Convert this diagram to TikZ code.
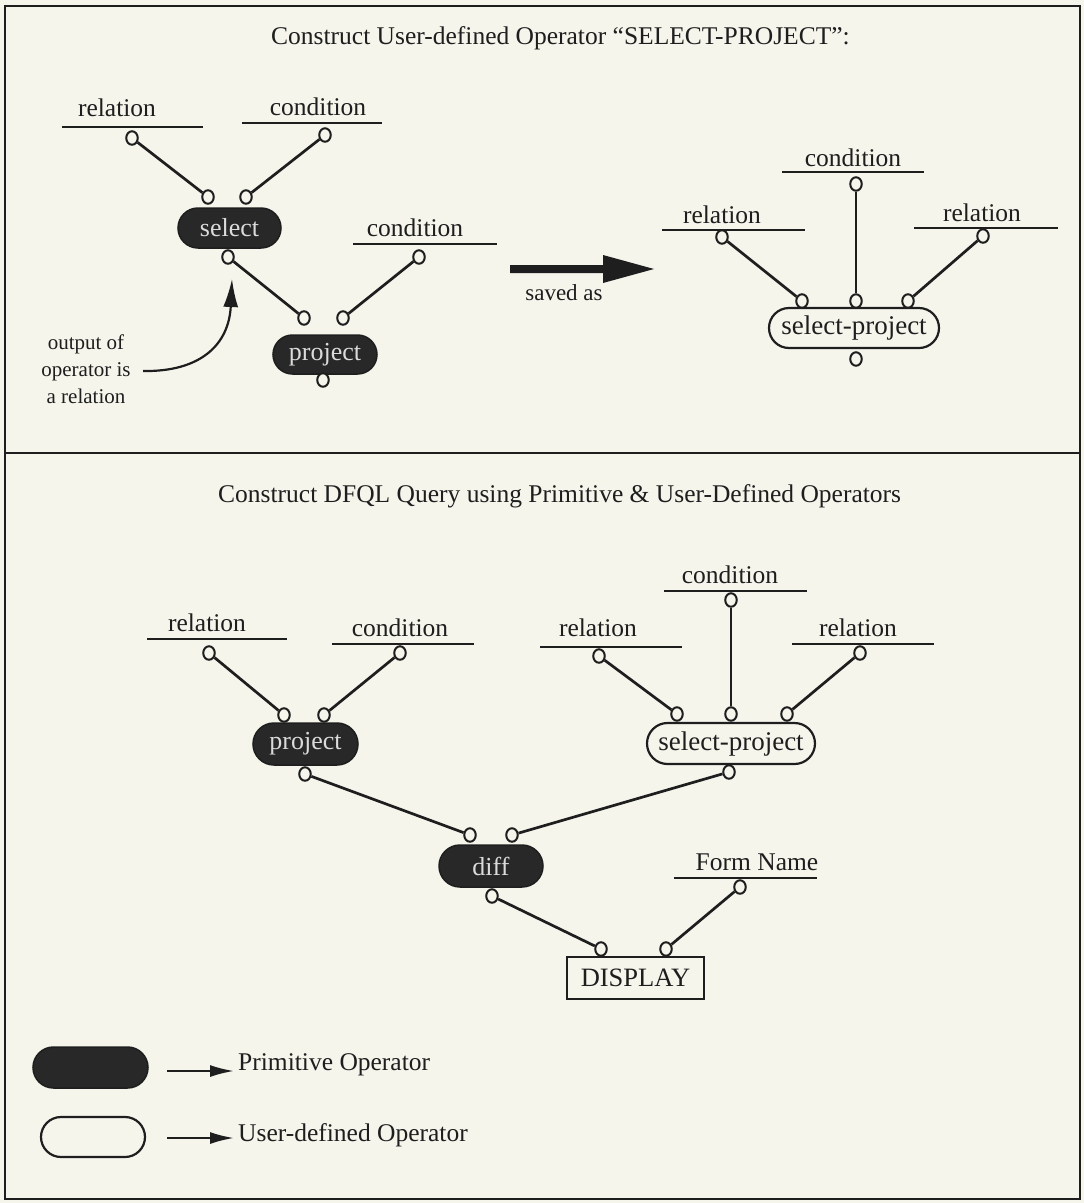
\documentclass[tikz,border=0pt]{standalone}
\usepackage{fontspec}
\setmainfont{Liberation Serif}
\usetikzlibrary{shapes.misc,shapes.geometric,arrows.meta}
\definecolor{bg}{RGB}{245,245,236}
\definecolor{ink}{RGB}{30,30,30}
\definecolor{prim}{RGB}{40,40,40}
\begin{document}
\begin{tikzpicture}[x=1pt,y=-1pt,
  lbl/.style={font=\fontsize{25.5}{30}\selectfont, text=ink, inner sep=0pt},
  ttl/.style={font=\fontsize{25.5}{30}\selectfont, text=ink, inner sep=0pt, anchor=west},
  uline/.style={draw=ink, line width=2.8pt},
  port/.style={ellipse, draw=ink, line width=2pt, fill=bg, minimum width=11.5pt, minimum height=13.5pt, inner sep=0pt},
  conn/.style={draw=ink, line width=2.7pt},
  primop/.style={rounded rectangle, fill=prim, draw=ink, line width=1.5pt, inner sep=0pt, text=white!72!gray, font=\fontsize{26}{30}\selectfont},
  userop/.style={rounded rectangle, fill=bg, draw=ink, line width=2.2pt, inner sep=0pt, text=ink, font=\fontsize{27}{30}\selectfont},
  dispbox/.style={rectangle, fill=bg, draw=ink, line width=2.2pt, inner sep=0pt, text=ink, font=\fontsize{26.5}{30}\selectfont},
  legarrow/.style={draw=ink, line width=2.2pt, -{Latex[length=24pt,width=12pt]}}
]
\useasboundingbox (0,0) rectangle (1084,1203);
\fill[bg] (0,0) rectangle (1084,1203);
\draw[ink, line width=2.2pt] (5,6) rectangle (1080,1199);
\draw[ink, line width=2pt] (5,453) -- (1080,453);

% ---------------- top section ----------------
\node[ttl] (title1) at (271,38) {Construct User-defined Operator “SELECT-PROJECT”:};

% label lines
\node[lbl] (t1) at (117,108) {relation};
\draw[uline] (62,127) -- (203,127);
\node[port] (t1p) at (132,138) {};
\node[lbl] (t2) at (318,107) {condition};
\draw[uline] (242,123) -- (382,123);
\node[port] (t2p) at (325,135) {};
\node[lbl] (t3) at (415,228) {condition};
\draw[uline] (353,244) -- (497,244);
\node[port] (t3p) at (419,257) {};

% select
\node[primop, minimum width=103pt, minimum height=40pt] (sel) at (229.5,228) {select};
\node[port] (selA) at (208,197) {};
\node[port] (selB) at (246,197) {};
\node[port] (selO) at (228,257) {};
% project
\node[primop, minimum width=104pt, minimum height=39pt] (proj) at (325,354.5) {project};
\node[port] (projA) at (304,318) {};
\node[port] (projB) at (343,318) {};
\node[port] (projO) at (323,380) {};

\draw[conn] (t1p) -- (selA);
\draw[conn] (t2p) -- (selB);
\draw[conn] (selO) -- (projA);
\draw[conn] (t3p) -- (projB);

% annotation
\node[font=\fontsize{21}{27}\selectfont, text=ink, align=center, inner sep=0pt] (ann) at (86,369) {output of\\operator is\\a relation};
\coordinate (annstart) at (143,371);
\coordinate (anntip) at (232,279);
\draw[ink, line width=2.2pt, -{Latex[length=28pt,width=15pt]}] (annstart) .. controls (200,372) and (229,345) .. (anntip);

% saved as arrow
\fill[ink] (510,265) -- (603,265) -- (603,255) -- (654,269) -- (603,283) -- (603,273) -- (510,273) -- cycle;
\node[font=\fontsize{23}{27}\selectfont, text=ink, inner sep=0pt] (saved) at (564,293) {saved as};

% right side
\node[lbl] (r1) at (722,215) {relation};
\draw[uline] (662,230) -- (805,230);
\node[port] (r1p) at (722,237) {};
\node[lbl] (r2) at (853,158) {condition};
\draw[uline] (782,172) -- (924,172);
\node[port] (r2p) at (856,184) {};
\node[lbl] (r3) at (982,213) {relation};
\draw[uline] (914,228) -- (1058,228);
\node[port] (r3p) at (983,236) {};

\node[userop, minimum width=170pt, minimum height=40pt] (sp) at (854,328) {select-project};
\node[port] (spA) at (802,301) {};
\node[port] (spB) at (856,301) {};
\node[port] (spC) at (908,301) {};
\node[port] (spO) at (856,359) {};

\draw[conn] (r1p) -- (spA);
\draw[conn] (r2p) -- (spB);
\draw[conn] (r3p) -- (spC);

% ---------------- bottom section ----------------
\node[ttl] (title2) at (218,496) {Construct DFQL Query using Primitive \& User-Defined Operators};

\node[lbl] (b1) at (207,623) {relation};
\draw[uline] (147,639) -- (287,639);
\node[port] (b1p) at (209,653) {};
\node[lbl] (b2) at (400,628) {condition};
\draw[uline] (332,644) -- (474,644);
\node[port] (b2p) at (400,653) {};
\node[lbl] (b3) at (598,628) {relation};
\draw[uline] (540,647) -- (682,647);
\node[port] (b3p) at (599,656) {};
\node[lbl] (b4) at (730,575) {condition};
\draw[uline] (664,591) -- (807,591);
\node[port] (b4p) at (731,600) {};
\node[lbl] (b5) at (858,628) {relation};
\draw[uline] (792,644) -- (934,644);
\node[port] (b5p) at (860,653) {};

\node[primop, minimum width=105pt, minimum height=42pt] (proj2) at (305.5,744) {project};
\node[port] (p2A) at (284,715) {};
\node[port] (p2B) at (324,715) {};
\node[port] (p2O) at (305,774) {};

\node[userop, minimum width=168pt, minimum height=41pt] (sp2) at (731,743.5) {select-project};
\node[port] (sp2A) at (677,714) {};
\node[port] (sp2B) at (731,714) {};
\node[port] (sp2C) at (787,714) {};
\node[port] (sp2O) at (729,772) {};

\node[primop, minimum width=104pt, minimum height=42pt] (dif) at (491,866) {diff};
\node[port] (dA) at (470,835) {};
\node[port] (dB) at (512,835) {};
\node[port] (dO) at (492,896) {};

\node[lbl] (fn) at (757,862) {Form Name};
\draw[uline] (674,878) -- (817,878);
\node[port] (fnp) at (740,887) {};

\node[dispbox, minimum width=137pt, minimum height=42pt] (disp) at (635.5,978) {DISPLAY};
\node[port] (dispA) at (601,949) {};
\node[port] (dispB) at (666,949) {};

\draw[conn] (b1p) -- (p2A);
\draw[conn] (b2p) -- (p2B);
\draw[conn] (b3p) -- (sp2A);
\draw[conn] (b4p) -- (sp2B);
\draw[conn] (b5p) -- (sp2C);
\draw[conn] (p2O) -- (dA);
\draw[conn] (sp2O) -- (dB);
\draw[conn] (dO) -- (dispA);
\draw[conn] (fnp) -- (dispB);

% ---------------- legend ----------------
\node[primop, minimum width=115pt, minimum height=41pt] (lp1) at (90.5,1067.5) {};
\coordinate (la1s) at (167,1071);
\coordinate (la1e) at (234,1071);
\draw[legarrow] (la1s) -- (la1e);
\node[lbl, anchor=west] (lt1) at (238,1065) {Primitive Operator};

\node[userop, minimum width=104pt, minimum height=40pt] (lp2) at (93,1137) {};
\coordinate (la2s) at (167,1138);
\coordinate (la2e) at (234,1138);
\draw[legarrow] (la2s) -- (la2e);
\node[lbl, anchor=west] (lt2) at (238,1135) {User-defined Operator};
\end{tikzpicture}
\end{document}
